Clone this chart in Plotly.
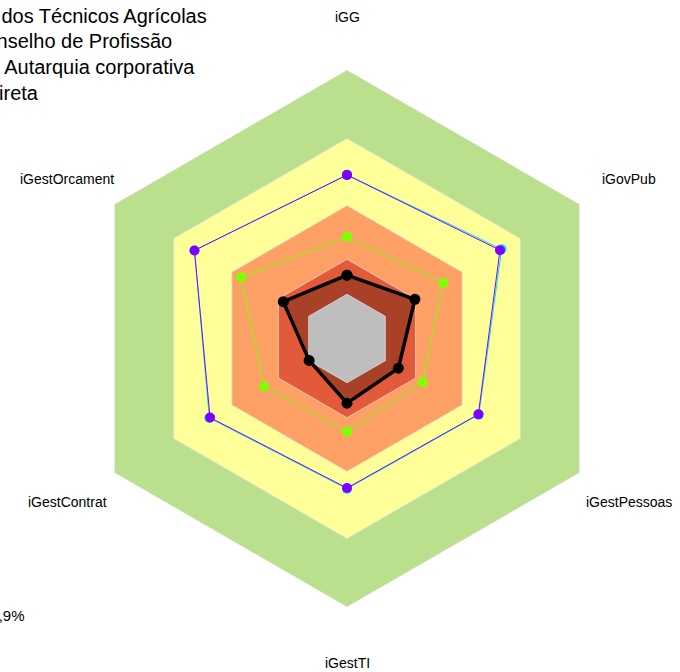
import numpy as np
import plotly.graph_objects as go

categorias = ["iGG", "iGovPub", "iGestPessoas", "iGestTI", "iGestContrat", "iGestOrcament"]

# faixas de referência (limite externo de cada faixa)
faixas = [1.0, 0.745, 0.495, 0.295]
cores_faixas = ["#bae08e", "#ffff99", "#fca065", "#e25a3a"]
faixa_centro = 0.165

serie_ciano = [0.61, 0.665, 0.567, 0.56, 0.592, 0.656]
serie_roxa = [0.609, 0.658, 0.565, 0.557, 0.589, 0.656]
serie_verde = [0.379, 0.414, 0.325, 0.347, 0.357, 0.456]
serie_orgao = [0.236, 0.292, 0.221, 0.241, 0.163, 0.274]

titulo = ["Conselho Federal dos Técnicos Agrícolas",
          "Conselho de Profissão",
          "Natureza: Autarquia corporativa",
          "Administração Indireta"]
rodape = "iGG: 23,9%"

W, H = 680, 672
cx, cy, R = 347, 338.5, 268.5

def fechar(v):
    return list(v) + [v[0]]

def px(x, y):
    return x / W, 1 - y / H

theta = fechar(categorias)

fig = go.Figure()

for nivel, cor in zip(faixas, cores_faixas):
    fig.add_trace(go.Scatterpolar(r=[nivel] * len(theta), theta=theta, mode="lines",
                                  fill="toself", fillcolor=cor,
                                  line=dict(color="rgba(225,225,225,0.7)", width=1),
                                  hoverinfo="skip"))

# preenchimento do órgão
fig.add_trace(go.Scatterpolar(r=fechar(serie_orgao), theta=theta, mode="lines",
                              fill="toself", fillcolor="rgba(60,20,10,0.35)",
                              line=dict(width=0, color="rgba(0,0,0,0)"), hoverinfo="skip"))

fig.add_trace(go.Scatterpolar(r=[faixa_centro] * len(theta), theta=theta, mode="lines",
                              fill="toself", fillcolor="#bebebe",
                              line=dict(color="rgba(225,225,225,0.7)", width=1),
                              hoverinfo="skip"))

fig.add_trace(go.Scatterpolar(r=fechar(serie_ciano), theta=theta, mode="lines+markers",
                              line=dict(color="#00e5ff", width=1),
                              marker=dict(size=10, color="#00e5ff")))
fig.add_trace(go.Scatterpolar(r=fechar(serie_roxa), theta=theta, mode="lines+markers",
                              line=dict(color="#7f00ff", width=1),
                              marker=dict(size=10, color="#7f00ff")))
fig.add_trace(go.Scatterpolar(r=fechar(serie_verde), theta=theta, mode="lines+markers",
                              line=dict(color="#80ff00", width=1),
                              marker=dict(size=10, color="#80ff00")))
fig.add_trace(go.Scatterpolar(r=fechar(serie_orgao), theta=theta, mode="lines+markers",
                              line=dict(color="black", width=3.5),
                              marker=dict(size=11, color="black")))

anots = []
fins = [208, 173, 196, 39.5]
ys = [16, 41.5, 67, 92.5]
for txt, xe, ye in zip(titulo, fins, ys):
    x, y = px(xe + 1, ye)
    anots.append(dict(text=txt, x=x, y=y, xref="paper", yref="paper",
                      xanchor="right", yanchor="middle", showarrow=False,
                      font=dict(size=20, color="black")))
x, y = px(25.5 + 1, 615)
anots.append(dict(text=rodape, x=x, y=y, xref="paper", yref="paper",
                  xanchor="right", yanchor="middle", showarrow=False,
                  font=dict(size=15, color="black")))

# rótulos das categorias, afastados do hexágono externo
Rl = 323
for i, cat in enumerate(categorias):
    ang = np.deg2rad(90 - 60 * i)
    x, y = px(cx + Rl * np.cos(ang) + (2 if np.cos(ang) > 0.1 else 0), cy - Rl * np.sin(ang) + 1.5)
    anots.append(dict(text=cat, x=x, y=y, xref="paper", yref="paper",
                      xanchor="center", yanchor="middle", showarrow=False,
                      font=dict(size=14, color="black")))

fig.update_layout(
    width=W, height=H,
    margin=dict(l=0, r=0, t=0, b=0),
    paper_bgcolor="white",
    showlegend=False,
    font=dict(family="Liberation Sans, Arial", size=14, color="black"),
    annotations=anots,
    polar=dict(
        domain=dict(x=[(cx - R) / W, (cx + R) / W], y=[(H - cy - R) / H, (H - cy + R) / H]),
        bgcolor="white",
        gridshape="linear",
        radialaxis=dict(range=[0, 1], visible=True, showgrid=False, showline=False,
                        showticklabels=False, ticks=""),
        angularaxis=dict(rotation=90, direction="clockwise", showline=False,
                         showgrid=True, gridcolor="rgba(215,215,215,0.9)", gridwidth=1,
                         showticklabels=False, ticks="", layer="above traces"),
    ),
)

fig.write_html("out.html", config={"displayModeBar": False},
               post_script="document.body.style.margin='0px';")
